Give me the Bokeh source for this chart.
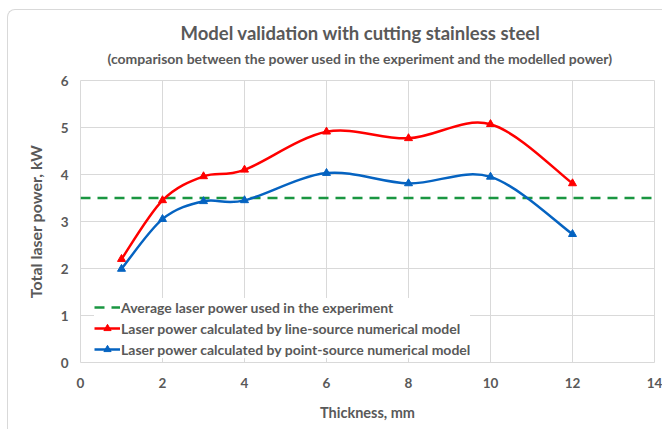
import numpy as np
from bokeh.plotting import figure
from bokeh.models import Title, Legend, LegendItem, ColumnDataSource, Range1d, FixedTicker, InlineStyleSheet
from bokeh.embed import file_html
from bokeh.resources import INLINE

# ---- data ----
thickness = [1, 2, 3, 4, 6, 8, 10, 12]
line_source_power = [2.20, 3.45, 3.96, 4.10, 4.91, 4.77, 5.07, 3.81]
point_source_power = [1.99, 3.05, 3.43, 3.45, 4.03, 3.81, 3.95, 2.73]
avg_power = 3.5
x_ticks = [0, 2, 4, 6, 8, 10, 12, 14]
y_ticks = [0, 1, 2, 3, 4, 5, 6]

title_text = "Model validation with cutting stainless steel"
subtitle_text = "(comparison between the power used in the experiment and the modelled power)"
labels = ["Average laser power used in the experiment",
          "Laser power calculated by line-source numerical model",
          "Laser power calculated by point-source numerical model"]

FONT = "Lato"
GRAY = "#595959"
GRID = "#d9d9d9"


def smooth_source(xs, ys):
    """Catmull-Rom style cubic Bezier segments through the data points (Excel-like smoothing)."""
    n = len(xs)
    P = list(zip(xs, ys))
    d = dict(x0=[], y0=[], x1=[], y1=[], cx0=[], cy0=[], cx1=[], cy1=[])
    for i in range(n - 1):
        pm = P[i - 1] if i > 0 else P[i]
        pa, pb = P[i], P[i + 1]
        pn = P[i + 2] if i + 2 < n else P[i + 1]
        d["x0"].append(pa[0]); d["y0"].append(pa[1])
        d["x1"].append(pb[0]); d["y1"].append(pb[1])
        d["cx0"].append(pa[0] + (pb[0] - pm[0]) / 6); d["cy0"].append(pa[1] + (pb[1] - pm[1]) / 6)
        d["cx1"].append(pb[0] - (pn[0] - pa[0]) / 6); d["cy1"].append(pb[1] - (pn[1] - pa[1]) / 6)
    return ColumnDataSource(d)


p = figure(width=662, height=429, output_backend="svg", toolbar_location=None,
           x_range=Range1d(x_ticks[0], x_ticks[-1]), y_range=Range1d(y_ticks[0], y_ticks[-1]),
           min_border_left=80, min_border_right=8, min_border_top=80, min_border_bottom=67,
           title=None)

p.stylesheets = [InlineStyleSheet(css=(
    ":host::after { content: ''; position: absolute; left: 7px; top: 9px; right: 0; bottom: 0;"
    " border-left: 1px solid #d9d9d9; border-top: 1px solid #d9d9d9;"
    " border-top-left-radius: 8px; pointer-events: none; z-index: 10; }"))]

p.outline_line_color = GRID
p.background_fill_color = "white"

p.xaxis.ticker = FixedTicker(ticks=x_ticks)
p.yaxis.ticker = FixedTicker(ticks=y_ticks)
for ax in (p.xaxis[0], p.yaxis[0]):
    ax.axis_line_color = None
    ax.major_tick_line_color = None
    ax.minor_tick_line_color = None
    ax.major_tick_out = 0
    ax.minor_tick_out = 0
    ax.major_label_text_font = FONT
    ax.major_label_text_font_style = "bold"
    ax.major_label_text_font_size = "13.5px"
    ax.major_label_text_color = GRAY
    ax.axis_label_text_font = FONT
    ax.axis_label_text_font_style = "bold"
    ax.axis_label_text_color = GRAY
p.xaxis.axis_label = "Thickness, mm"
p.yaxis.axis_label = "Total laser power, kW"
p.xaxis.axis_label_text_font_size = "14.5px"
p.yaxis.axis_label_text_font_size = "16px"
p.xaxis.major_label_standoff = 15
p.yaxis.major_label_standoff = 12
p.xaxis.axis_label_standoff = 13
p.yaxis.axis_label_standoff = 13

p.xgrid.grid_line_color = GRID
p.ygrid.grid_line_color = GRID

# titles
p.add_layout(Title(text=subtitle_text, align="left", offset=27, text_font=FONT,
                   text_font_style="bold", text_font_size="14px", text_color=GRAY,
                   standoff=27), "above")
p.add_layout(Title(text=title_text, align="left", offset=100, text_font=FONT,
                   text_font_style="bold", text_font_size="18.5px", text_color=GRAY,
                   standoff=-18), "above")

# average line
avg = p.line(x=[x_ticks[0], x_ticks[-1]], y=[avg_power, avg_power], line_color="#1a9641",
             line_width=2.5, line_dash="10 7")

# red
red_src = smooth_source(thickness, line_source_power)
red_curve = p.bezier(x0="x0", y0="y0", x1="x1", y1="y1", cx0="cx0", cy0="cy0", cx1="cx1", cy1="cy1",
                     source=red_src, line_color="#ff0000", line_width=2.5)
red_pts = p.scatter(thickness, line_source_power, marker="triangle", size=8,
                    fill_color="#ff0000", line_color="#ff0000")

blue_src = smooth_source(thickness, point_source_power)
blue_curve = p.bezier(x0="x0", y0="y0", x1="x1", y1="y1", cx0="cx0", cy0="cy0", cx1="cx1", cy1="cy1",
                      source=blue_src, line_color="#0563c1", line_width=2.5)
blue_pts = p.scatter(thickness, point_source_power, marker="triangle", size=8,
                     fill_color="#0563c1", line_color="#0563c1")

legend = Legend(items=[LegendItem(label=labels[0], renderers=[avg]),
                       LegendItem(label=labels[1], renderers=[red_curve, red_pts]),
                       LegendItem(label=labels[2], renderers=[blue_curve, blue_pts])],
                location=(14, 4), orientation="vertical",
                label_text_font=FONT, label_text_font_style="bold", label_text_font_size="14px",
                label_text_color=GRAY, glyph_width=26, glyph_height=18, label_height=18,
                label_standoff=1, spacing=3, padding=3, margin=0,
                border_line_color=None, background_fill_color="white", background_fill_alpha=1.0)
p.add_layout(legend, "center")

open("out.html", "w").write(file_html(p, INLINE))
